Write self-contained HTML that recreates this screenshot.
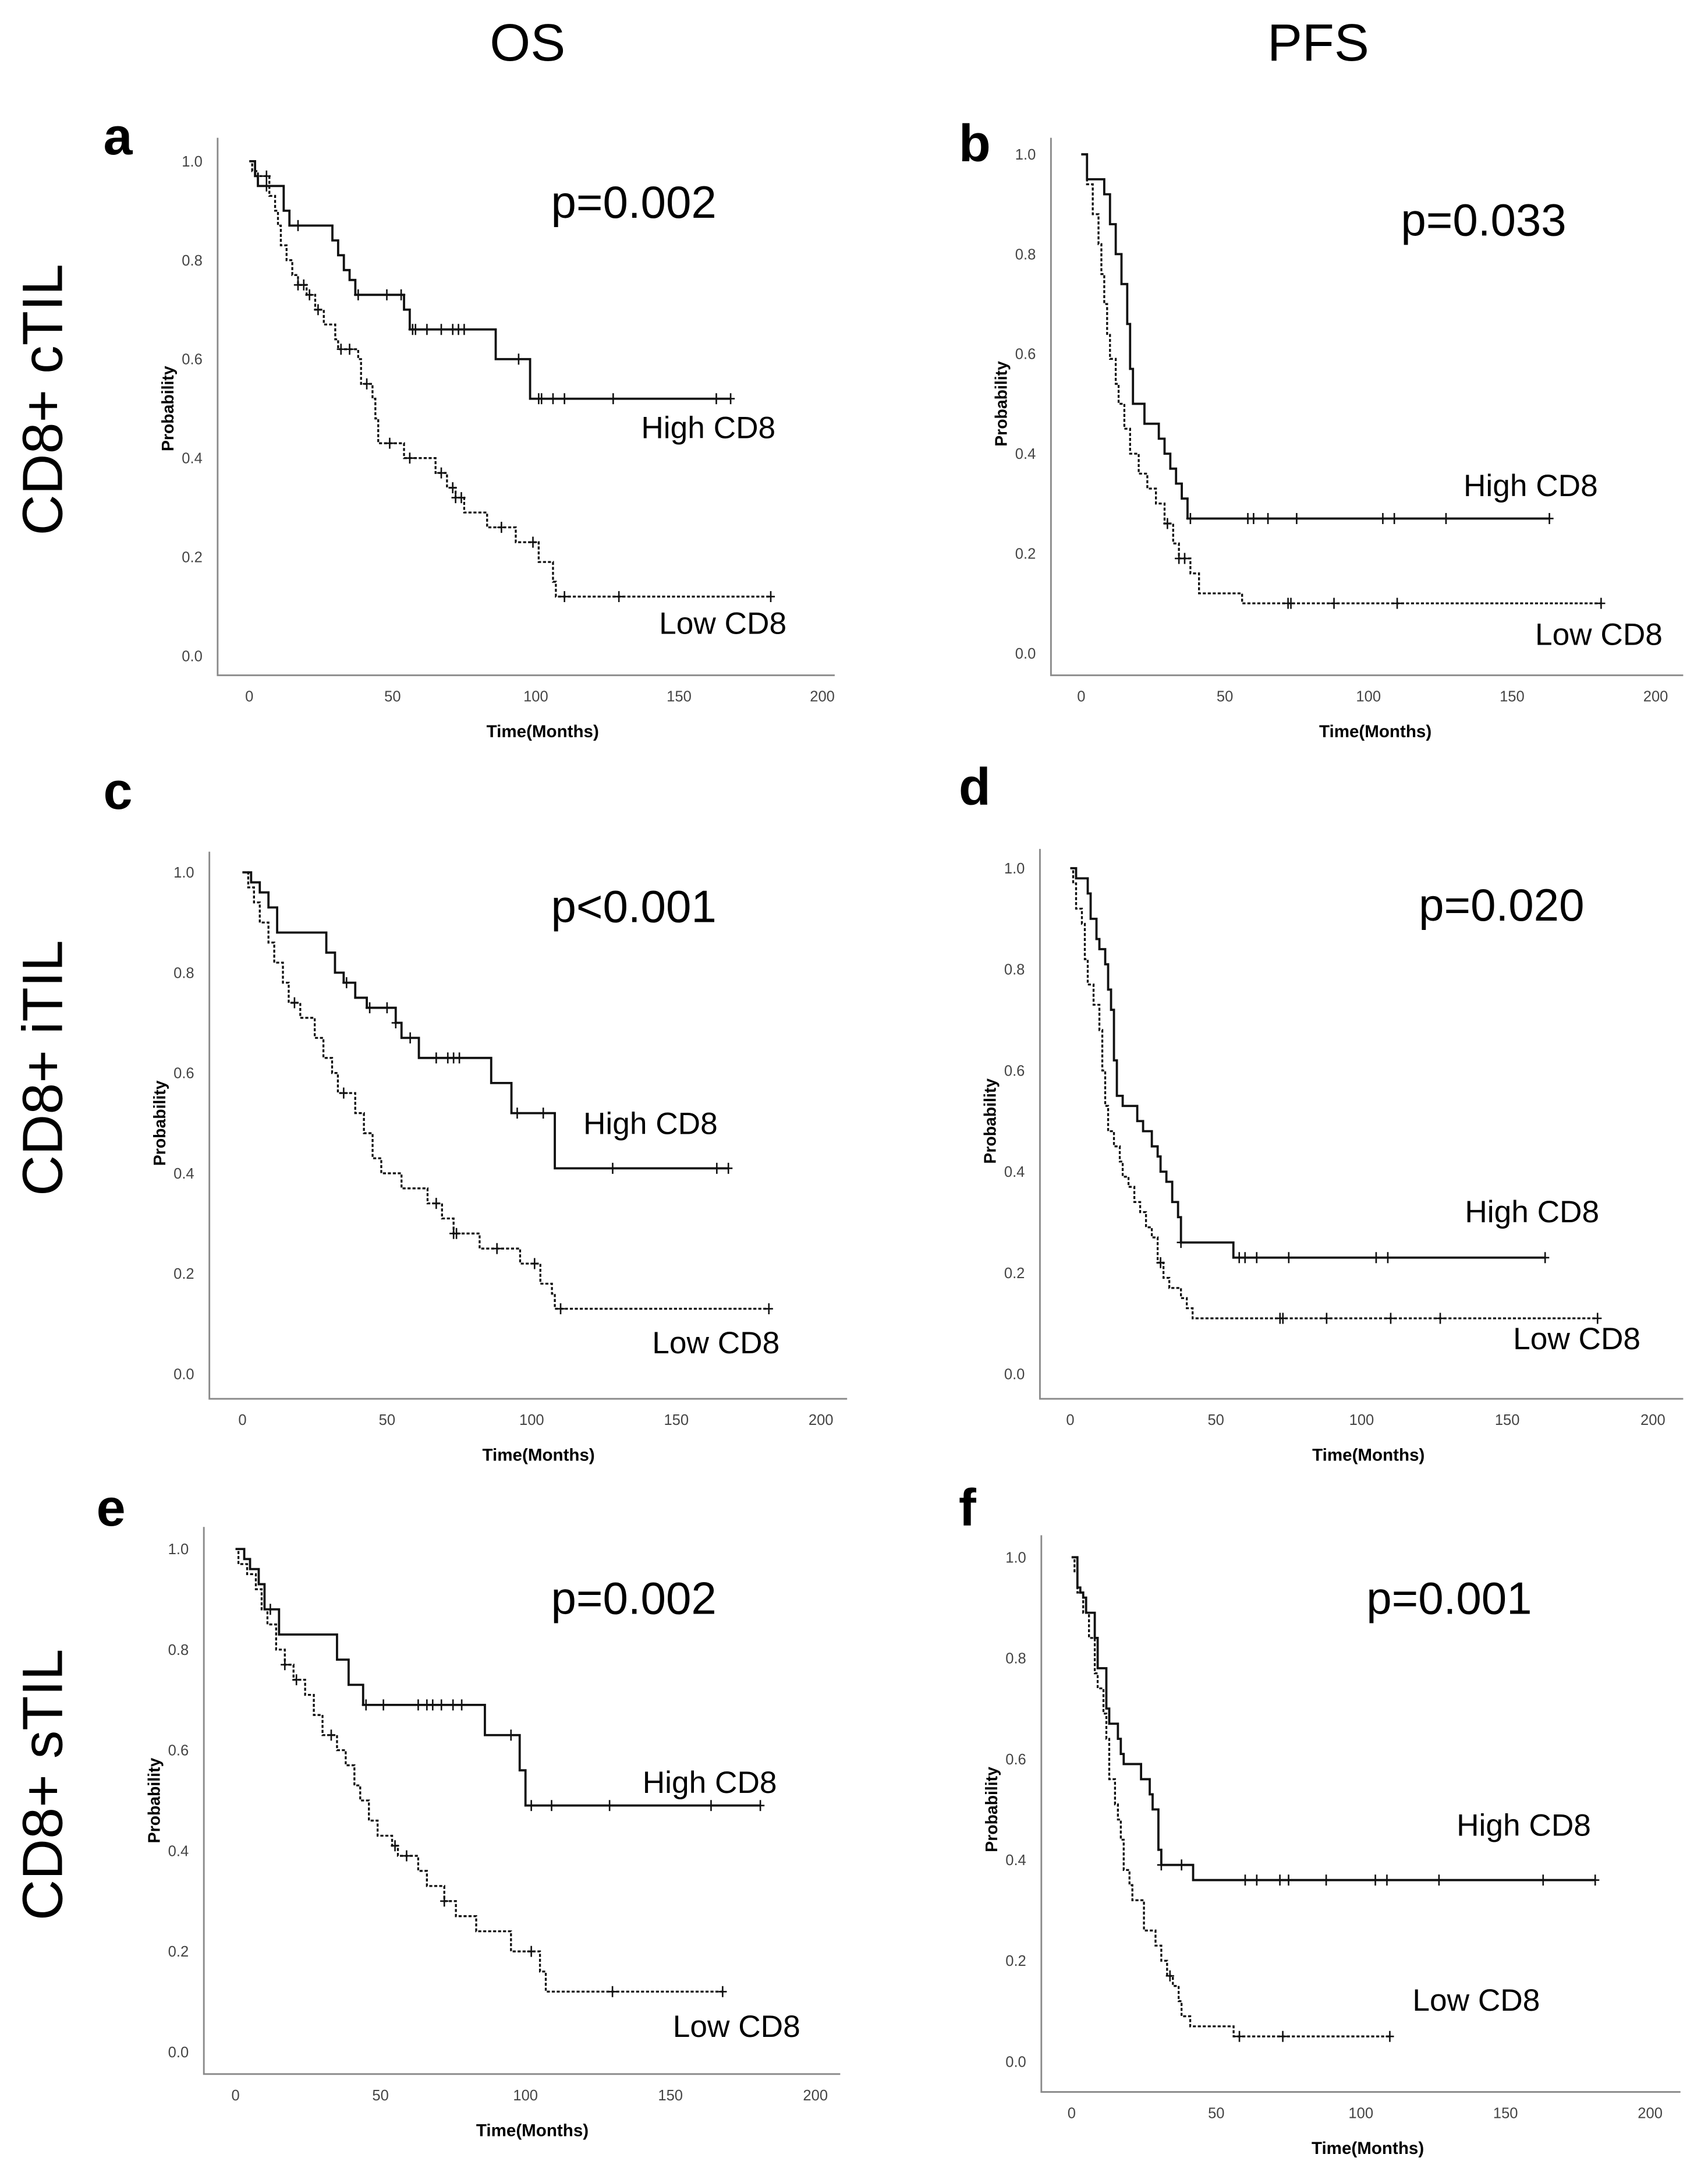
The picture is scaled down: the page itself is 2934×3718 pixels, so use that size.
<!DOCTYPE html>
<html><head><meta charset="utf-8"><style>
html,body{margin:0;padding:0;background:#fff;}
svg{display:block;}
</style></head><body>
<svg id="fig" width="2934" height="3718" viewBox="0 0 1240 1571" preserveAspectRatio="none" xmlns="http://www.w3.org/2000/svg">
<rect width="1240" height="1571" fill="#fff"/>
<text x="383" y="44" font-family="Liberation Sans, sans-serif" font-size="38" text-anchor="middle">OS</text>
<text x="957" y="44" font-family="Liberation Sans, sans-serif" font-size="38" text-anchor="middle">PFS</text>
<text transform="translate(45,290) rotate(-90)" font-family="Liberation Sans, sans-serif" font-size="41" text-anchor="middle">CD8+ cTIL</text>
<text transform="translate(45,775) rotate(-90)" font-family="Liberation Sans, sans-serif" font-size="41" text-anchor="middle">CD8+ iTIL</text>
<text transform="translate(45,1295) rotate(-90)" font-family="Liberation Sans, sans-serif" font-size="41" text-anchor="middle">CD8+ sTIL</text>
</svg>
<script>
// ---- data (time in months, survival probability) ----
const aHighT=[0,2,3,12,14,29,31,33,35,37,54,56,86,98,168];
const aHighS=[1,0.97,0.95,0.90,0.87,0.84,0.81,0.78,0.76,0.73,0.70,0.66,0.60,0.52,0.52];
const aHighC=[6,17,38,48,53,57,58,62,67,71,73,75,94,101,102,106,110,127,163,168];
const aLowT=[0,1,3,7,9,10,11,13,15,17,20,23,26,30,31,38,39,43,44,45,54,65,69,72,75,83,93,101,106,107,182];
const aLowS=[1,0.98,0.97,0.93,0.90,0.87,0.83,0.80,0.77,0.75,0.73,0.70,0.67,0.64,0.62,0.60,0.55,0.52,0.48,0.43,0.40,0.37,0.34,0.32,0.29,0.26,0.23,0.19,0.15,0.12,0.12];
const aLowC=[6,17,19,21,24,32,35,41,49,56,67,71,72,74,88,99,110,129,182];

const bHighT=[0,2,8,10,12,14,16,17,18,22,27,29,31,33,35,37,163];
const bHighS=[1,0.95,0.92,0.86,0.80,0.74,0.66,0.57,0.50,0.46,0.43,0.40,0.37,0.34,0.31,0.27,0.27];
const bHighC=[38,58,60,65,75,105,109,127,163];
const bLowT=[0,2,4,6,7,8,9,10,12,13,15,17,20,23,26,29,32,34,38,41,56,181];
const bLowS=[1,0.94,0.88,0.82,0.76,0.70,0.64,0.59,0.54,0.50,0.45,0.40,0.36,0.33,0.30,0.26,0.22,0.19,0.16,0.12,0.10,0.10];
const bLowC=[30,34,36,72,73,88,110,181];

const cHighT=[0,3,6,9,12,29,32,35,39,43,53,55,61,86,93,108,168];
const cHighS=[1,0.98,0.96,0.93,0.88,0.84,0.80,0.78,0.75,0.73,0.70,0.67,0.63,0.58,0.52,0.41,0.41];
const cHighC=[36,44,50,53,58,67,71,73,75,95,104,128,164,168];
const cLowT=[0,2,4,6,9,11,14,16,20,25,28,31,33,39,42,45,48,55,64,69,73,82,96,103,107,108,182];
const cLowS=[1,0.97,0.94,0.90,0.86,0.82,0.78,0.74,0.71,0.67,0.63,0.60,0.56,0.52,0.48,0.43,0.40,0.37,0.34,0.31,0.28,0.25,0.22,0.18,0.16,0.13,0.13];
const cLowC=[18,35,67,73,74,88,101,110,182];

const dHighT=[0,2,6,7,9,10,12,13,14,15,16,18,23,25,28,30,31,33,35,37,38,56,163];
const dHighS=[1,0.98,0.95,0.90,0.86,0.84,0.81,0.76,0.72,0.62,0.55,0.53,0.50,0.48,0.45,0.43,0.40,0.38,0.34,0.31,0.26,0.23,0.23];
const dHighC=[38,58,60,64,75,105,109,163];
const dLowT=[0,1,2,4,5,6,8,10,11,12,13,15,17,18,20,22,24,26,28,30,32,34,38,40,42,181];
const dLowS=[1,0.97,0.92,0.89,0.82,0.77,0.73,0.68,0.60,0.53,0.48,0.45,0.42,0.39,0.37,0.34,0.32,0.29,0.27,0.22,0.19,0.17,0.15,0.13,0.11,0.11];
const dLowC=[31,72,73,88,110,127,181];

const eHighT=[0,3,5,8,10,15,35,39,44,86,98,100,181];
const eHighS=[1,0.98,0.96,0.93,0.88,0.83,0.78,0.73,0.69,0.63,0.56,0.49,0.49];
const eHighC=[12,45,51,63,66,68,71,75,78,95,102,109,129,164,181];
const eLowT=[0,1,4,7,9,11,14,17,20,24,27,30,35,38,41,43,46,49,54,56,63,66,72,76,83,95,105,107,168];
const eLowS=[1,0.97,0.95,0.92,0.88,0.85,0.80,0.77,0.74,0.71,0.67,0.63,0.60,0.57,0.53,0.50,0.46,0.43,0.41,0.39,0.36,0.33,0.30,0.27,0.24,0.20,0.16,0.12,0.12];
const eLowC=[17,21,33,55,59,72,102,130,168];

const fHighT=[0,2,3,4,5,8,9,12,13,16,17,18,24,27,28,30,31,42,181];
const fHighS=[1,0.94,0.93,0.92,0.89,0.84,0.78,0.70,0.67,0.64,0.61,0.59,0.56,0.53,0.50,0.42,0.39,0.36,0.36];
const fHighC=[31,38,60,64,72,75,88,105,109,127,163,181];
const fLowT=[0,1,2,4,6,8,9,11,12,13,15,16,17,18,20,21,25,29,31,33,35,37,38,41,56,110];
const fLowS=[1,0.97,0.93,0.89,0.84,0.77,0.74,0.69,0.64,0.56,0.51,0.48,0.44,0.38,0.35,0.32,0.26,0.23,0.20,0.17,0.15,0.12,0.09,0.07,0.05,0.05];
const fLowC=[34,58,73,110];

const xTicks=[0,50,100,150,200];
const yTicks=[0,0.2,0.4,0.6,0.8,1.0];
const yTickLabels=["0.0","0.2","0.4","0.6","0.8","1.0"];
const xTickLabels=["0","50","100","150","200"];

// ---- layout ----
const panels=[
 {id:'a',L:158,T:100,B:490,R:606,x0:181,x200:597,y1:117,y0:476,p:'p=0.002',px:400,py:158,hx:563,hy:318,lx:571,ly:460,lab:[75,112],hT:aHighT,hS:aHighS,hC:aHighC,lT:aLowT,lS:aLowS,lC:aLowC},
 {id:'b',L:763,T:100,B:490,R:1222,x0:785,x200:1202,y1:112,y0:474,p:'p=0.033',px:1017,py:171,hx:1160,hy:360,lx:1207,ly:468,lab:[696,117],hT:bHighT,hS:bHighS,hC:bHighC,lT:bLowT,lS:bLowS,lC:bLowC},
 {id:'c',L:152,T:618,B:1015,R:615,x0:176,x200:596,y1:633,y0:997,p:'p<0.001',px:400,py:669,hx:521,hy:823,lx:566,ly:982,lab:[75,587],hT:cHighT,hS:cHighS,hC:cHighC,lT:cLowT,lS:cLowS,lC:cLowC},
 {id:'d',L:755,T:616,B:1015,R:1222,x0:777,x200:1200,y1:630,y0:997,p:'p=0.020',px:1030,py:668,hx:1161,hy:887,lx:1191,ly:979,lab:[696,584],hT:dHighT,hS:dHighS,hC:dHighC,lT:dLowT,lS:dLowS,lC:dLowC},
 {id:'e',L:148,T:1108,B:1505,R:610,x0:171,x200:592,y1:1124,y0:1489,p:'p=0.002',px:400,py:1171,hx:564,hy:1301,lx:581,ly:1478,lab:[70,1107],hT:eHighT,hS:eHighS,hC:eHighC,lT:eLowT,lS:eLowS,lC:eLowC},
 {id:'f',L:756,T:1114,B:1518,R:1220,x0:778,x200:1198,y1:1130,y0:1496,p:'p=0.001',px:992,py:1171,hx:1155,hy:1332,lx:1118,ly:1459,lab:[696,1107],hT:fHighT,hS:fHighS,hC:fHighC,lT:fLowT,lS:fLowS,lC:fLowC}
];
const NS='http://www.w3.org/2000/svg';
const svg=document.getElementById('fig');
function mk(tag,attrs,parent){const e=document.createElementNS(NS,tag);for(const k in attrs)e.setAttribute(k,attrs[k]);(parent||svg).appendChild(e);return e;}
function txt(parent,x,y,s,attrs){const e=mk('text',Object.assign({x:x,y:y,'font-family':'Liberation Sans, sans-serif'},attrs),parent);e.textContent=s;return e;}

panels.forEach(P=>{
  const g=mk('g',{});
  
  
  const xs=t=>P.x0+(P.x200-P.x0)*t/200;
  const ys=v=>P.y0+(P.y1-P.y0)*v;
  const lb=txt(g,P.lab[0],P.lab[1],P.id,{'font-size':38,'font-weight':'bold'});
  
  
  const ax=mk('path',{d:`M${P.L},${P.T}V${P.B}H${P.R}`,fill:'none',stroke:'#8a8a8a','stroke-width':1.2},g);
  
  
  yTicks.forEach((v,i)=>{const t=txt(g,P.L-11,ys(v)+3.8,yTickLabels[i],{'font-size':10.8,'text-anchor':'end',fill:'#444'});
    });
  xTicks.forEach((v,i)=>{const t=txt(g,xs(v),P.B+19,xTickLabels[i],{'font-size':10.8,'text-anchor':'middle',fill:'#444'});
    });
  const yt=txt(g,0,0,'Probability',{'font-size':12,'font-weight':'bold','text-anchor':'middle',transform:`translate(${P.L-32},${(P.y0+P.y1)/2}) rotate(-90)`});
  
  const xt=txt(g,(P.x0+P.x200)/2+5,P.B+45,'Time(Months)',{'font-size':12.5,'font-weight':'bold','text-anchor':'middle'});
  
  const pv=txt(g,P.px,P.py,P.p,{'font-size':33,'font-family':'Liberation Sans, Noto Sans CJK JP, sans-serif'});
  
  const hl=txt(g,P.hx,P.hy,'High CD8',{'font-size':22.5,'text-anchor':'end','font-family':'Liberation Sans, Noto Sans CJK JP, sans-serif'});
  
  const ll=txt(g,P.lx,P.ly,'Low CD8',{'font-size':22.5,'text-anchor':'end','font-family':'Liberation Sans, Noto Sans CJK JP, sans-serif'});
  
  function curve(T,S,C,dashed,name){
    let d=`M${xs(T[0])},${ys(S[0])}`;
    for(let i=1;i<T.length;i++){d+=`H${xs(T[i])}V${ys(S[i])}`;}
    const p=mk('path',{d:d,fill:'none',stroke:'#111','stroke-width':dashed?1.4:1.6},g);
    if(dashed)p.setAttribute('stroke-dasharray','2.2,1.4');
    
    
    C.forEach(c=>{
      let s=S[0];for(let i=0;i<T.length;i++){if(T[i]<=c)s=S[i];}
      const m=mk('path',{d:`M${xs(c)},${ys(s)-4}v8M${xs(c)-3},${ys(s)}h6`,stroke:'#111','stroke-width':1.1},g);
      
      
    });
  }
  curve(P.lT,P.lS,P.lC,true,'low-cd8');
  curve(P.hT,P.hS,P.hC,false,'high-cd8');
});
</script>
</body></html>
